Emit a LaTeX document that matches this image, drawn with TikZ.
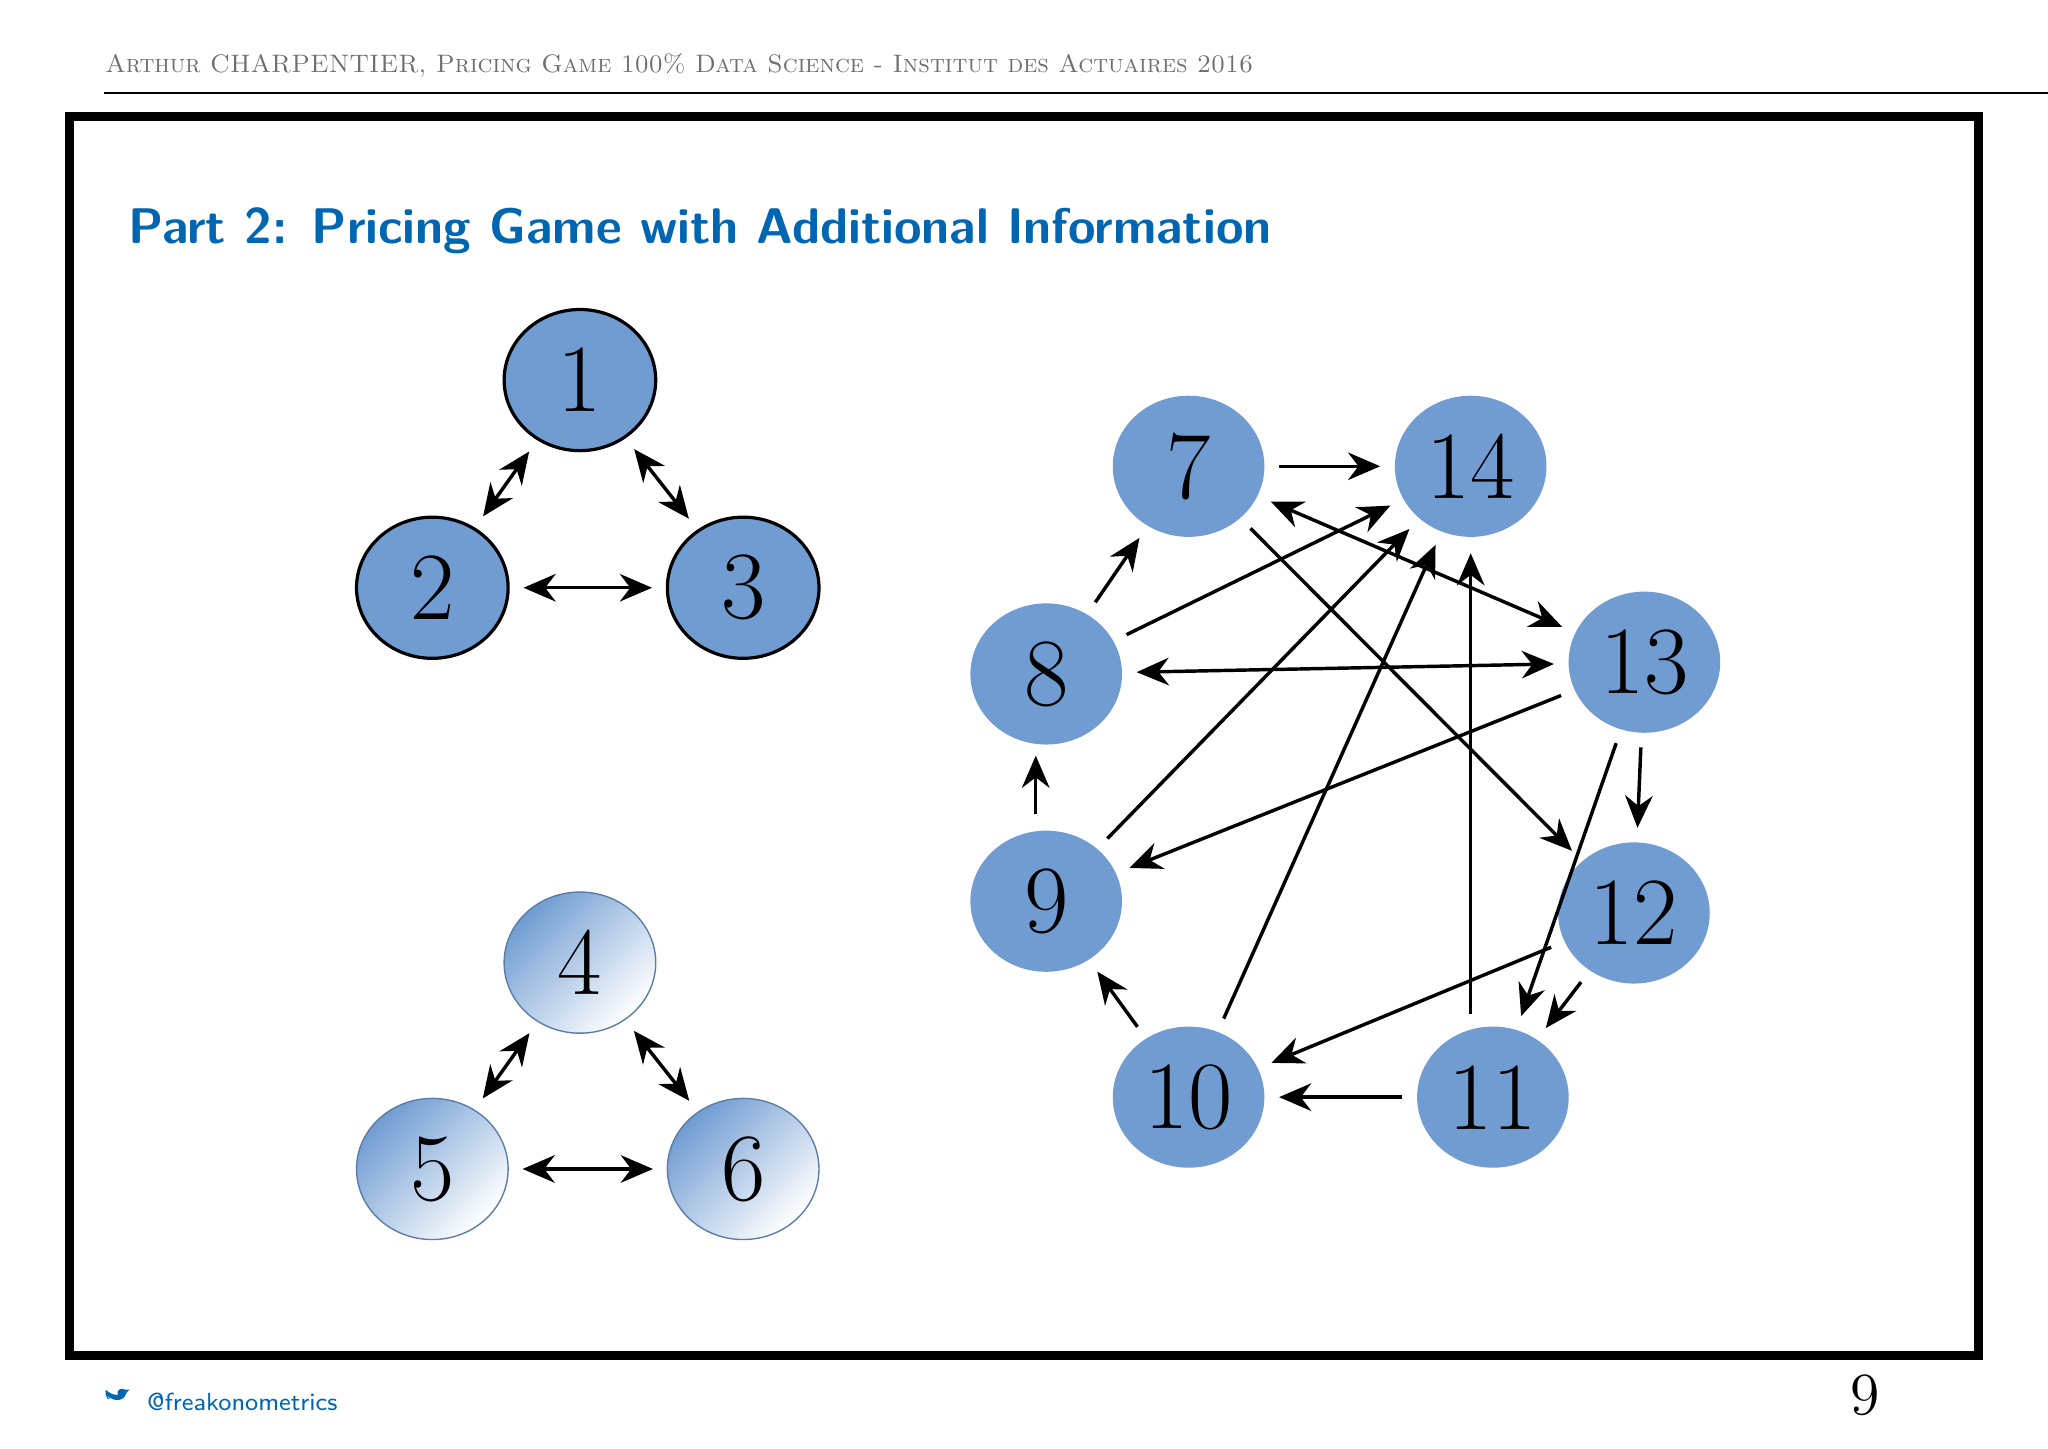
\documentclass[tikz,border=0pt]{standalone}
\usepackage{fontspec}
\usetikzlibrary{shapes.geometric,arrows.meta}
\definecolor{titleblue}{RGB}{0,102,178}
\definecolor{nodeblue}{RGB}{112,156,210}
\definecolor{hdr}{RGB}{110,110,110}
\begin{document}
\begin{tikzpicture}[x=0.01cm,y=-0.01cm,
  nd/.style={ellipse,minimum width=1.16cm,minimum height=1.08cm,inner sep=0pt,font=\fontsize{21}{24}\selectfont},
  dk/.style={nd,fill=nodeblue,draw=black,line width=0.7pt},
  lt/.style={nd,draw=nodeblue!80!black,line width=0.3pt,left color=nodeblue,right color=white,shading angle=45},
  rt/.style={nd,fill=nodeblue},
  ar/.style={line width=0.75pt,-{Stealth[length=7pt,width=6pt]},shorten >=3pt,shorten <=3pt},
  br/.style={line width=0.75pt,{Stealth[length=7pt,width=6pt]}-{Stealth[length=7pt,width=6pt]},shorten >=3pt,shorten <=3pt}]
\useasboundingbox (0,0) rectangle (1568,1109);
\fill[white] (0,0) rectangle (1568,1109);
\node[anchor=west,text=hdr,font=\fontsize{5.5}{7}\selectfont\scshape,inner sep=0pt] (hd) at (80,50) {Arthur CHARPENTIER, Pricing Game 100\% Data Science - Institut des Actuaires 2016};
\draw[line width=0.4pt] (80,71) -- (1568,71);
\draw[line width=2pt] (53,89) rectangle (1515,1038);
\node[anchor=west,text=titleblue,font=\fontsize{10.9}{13}\selectfont\sffamily\bfseries,inner sep=0pt] (ti) at (98,177) {Part 2: Pricing Game with Additional Information};
% left
\node[dk] (n1) at (444,291) {1};
\node[dk] (n2) at (331,450) {2};
\node[dk] (n3) at (569,450) {3};
\node[lt] (n4) at (444,737) {4};
\node[lt] (n5) at (331,895) {5};
\node[lt] (n6) at (569,895) {6};
\draw[br] (n1) -- (n2); \draw[br] (n1) -- (n3); \draw[br] (n2) -- (n3);
\draw[br] (n4) -- (n5); \draw[br] (n4) -- (n6); \draw[br] (n5) -- (n6);
% right
\node[rt] (n7) at (910,357) {7};
\node[rt] (n14) at (1126,357) {14};
\node[rt] (n13) at (1259,507) {13};
\node[rt] (n8) at (801,516) {8};
\node[rt] (n9) at (801,690) {9};
\node[rt] (n12) at (1251,699) {12};
\node[rt] (n10) at (910,840) {10};
\node[rt] (n11) at (1143,840) {11};
\draw[ar] (n7) -- (n14);
\draw[ar] (n8) -- (n7);
\draw[ar] (n8) -- (n14);
\draw[br] (n8) -- (n13);
\draw[br] (n7) -- (n13);
\draw[ar] (n7) -- (n12);
\draw[ar] (n9) -- (n14);
\draw[ar] (n10) -- (n14);
\coordinate (a11) at (1126,787);
\coordinate (b11) at (1126,413);
\draw[ar] (a11) -- (b11);
\draw[ar] (n13) -- (n9);
\draw[ar] (n13) -- (n12);
\draw[ar] (n13) -- (n11);
\draw[ar] (n12) -- (n10);
\draw[ar] (n12) -- (n11);
\draw[ar] (n11) -- (n10);
\draw[ar] (n10) -- (n9);
\coordinate (a9) at (793,634);
\coordinate (b9) at (793,568);
\draw[ar] (a9) -- (b9);
% footer
\fill[titleblue] (81,1068) .. controls (88,1074) and (95,1073) .. (97,1066) -- (99,1064) -- (96,1064) .. controls (93,1062) and (89,1064) .. (90,1068) .. controls (86,1068) and (83,1066) .. (81,1064) .. controls (80,1068) and (82,1070) .. (84,1071) .. controls (83,1072) and (82,1071) .. (81,1068) -- cycle;
\node[anchor=west,text=titleblue,font=\fontsize{5.4}{7}\selectfont\sffamily,inner sep=0pt] (tw) at (112,1073) {@freakonometrics};
\node[font=\fontsize{13}{14}\selectfont,inner sep=0pt] (pg) at (1428,1068) {9};
\end{tikzpicture}
\end{document}
